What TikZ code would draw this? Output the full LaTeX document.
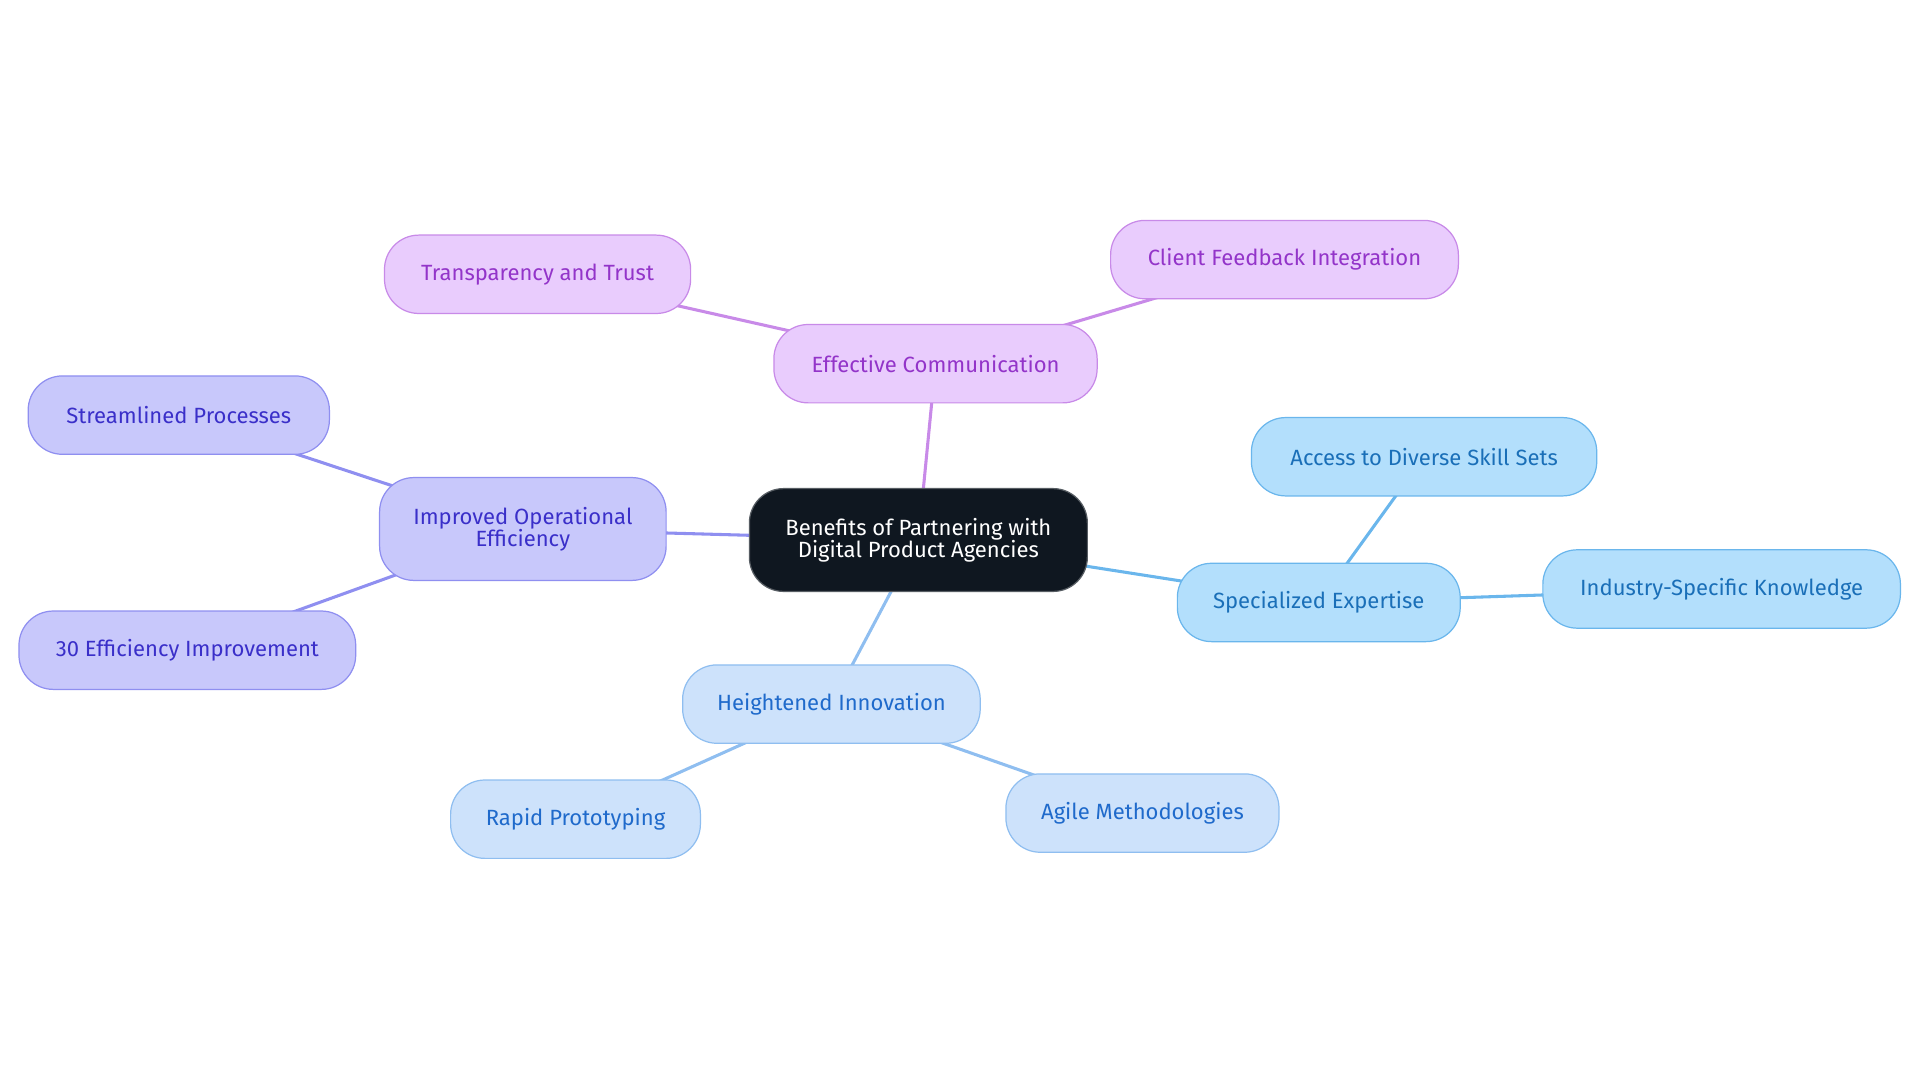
\documentclass[tikz,border=0pt]{standalone}
\usepackage{fontspec}
\setmainfont{Fira Sans}
\usetikzlibrary{backgrounds}
\definecolor{cfill}{HTML}{0F1720}
\definecolor{pfill}{HTML}{E9CCFD}\definecolor{pline}{HTML}{C88AE8}\definecolor{ptext}{HTML}{9334C9}
\definecolor{vfill}{HTML}{C8C8FB}\definecolor{vline}{HTML}{8F8FF0}\definecolor{vtext}{HTML}{3A2FC9}
\definecolor{sfill}{HTML}{B3DFFC}\definecolor{sline}{HTML}{6AB6EC}\definecolor{stext}{HTML}{1A6FB8}
\definecolor{hfill}{HTML}{CDE2FB}\definecolor{hline}{HTML}{8FBEF0}\definecolor{htext}{HTML}{1F6ACB}
\tikzset{
 box/.style={rounded corners=28pt,draw,line width=1pt,minimum height=64pt,align=center,font=\fontsize{18}{20}\selectfont,inner sep=0pt},
 pbox/.style={box,fill=pfill,draw=pline,text=ptext},
 vbox/.style={box,fill=vfill,draw=vline,text=vtext},
 sbox/.style={box,fill=sfill,draw=sline,text=stext},
 hbox/.style={box,fill=hfill,draw=hline,text=htext},
 edge/.style={line width=2.5pt}
}
\begin{document}
\begin{tikzpicture}[x=1pt,y=-1pt]
\useasboundingbox (0,0) rectangle (1568,884);
\node[box,fill=cfill,draw=cfill!70!white,text=white,minimum width=276pt,minimum height=84pt] (c) at (750,441) {Benefits of Partnering with\\[-2pt]Digital Product Agencies};
\node[pbox,minimum width=264pt] (ec) at (764,297) {Effective Communication};
\node[pbox,minimum width=250pt] (tt) at (439,224) {Transparency and Trust};
\node[pbox,minimum width=284pt] (cf) at (1049,212) {Client Feedback Integration};
\node[vbox,minimum width=234pt,minimum height=84pt] (io) at (427,432) {Improved Operational\\[-2pt]Efficiency};
\node[vbox,minimum width=246pt] (sp) at (146,339) {Streamlined Processes};
\node[vbox,minimum width=275pt] (ei) at (153,531) {30 Efficiency Improvement};
\node[sbox,minimum width=231pt] (se) at (1077,492) {Specialized Expertise};
\node[sbox,minimum width=282pt] (ad) at (1163,373) {Access to Diverse Skill Sets};
\node[sbox,minimum width=292pt] (is) at (1406,481) {Industry-Specific Knowledge};
\node[hbox,minimum width=243pt] (hi) at (679,575) {Heightened Innovation};
\node[hbox,minimum width=204pt] (rp) at (470,669) {Rapid Prototyping};
\node[hbox,minimum width=223pt] (am) at (933,664) {Agile Methodologies};
\begin{scope}[on background layer]
\draw[edge,pline] (c.center)--(ec.center) (ec.center)--(tt.center) (ec.center)--(cf.center);
\draw[edge,vline] (c.center)--(io.center) (io.center)--(sp.center) (io.center)--(ei.center);
\draw[edge,sline] (c.center)--(se.center) (se.center)--(ad.center) (se.center)--(is.center);
\draw[edge,hline] (c.center)--(hi.center) (hi.center)--(rp.center) (hi.center)--(am.center);
\end{scope}
\end{tikzpicture}
\end{document}
